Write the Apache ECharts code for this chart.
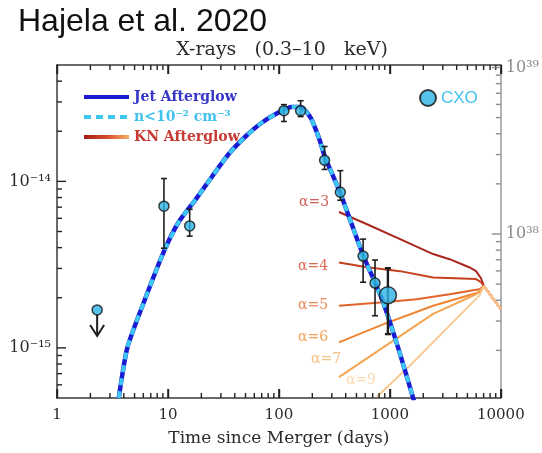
<!DOCTYPE html>
<html><head><meta charset="utf-8">
<script src="https://cdn.jsdelivr.net/npm/echarts@6/dist/echarts.min.js"></script>
<style>html,body{margin:0;padding:0;background:#fff}#chart{width:542px;height:453px}</style>
</head><body><div id="chart"></div>
<script>
// ---------------- data ----------------
const xTicks = [1, 10, 100, 1000, 10000];
const xTickLabels = ['1', '10', '100', '1000', '10000'];
const fluxTicks = [1e-15, 1e-14];
const fluxTickLabels = ['10⁻¹⁵', '10⁻¹⁴'];
const lumTicks = [1e38, 1e39];
const lumTickLabels = ['10³⁸', '10³⁹'];

// Jet afterglow model (days, erg/s/cm^2)
const jetT = [3.6, 4.3, 6.1, 9.2, 12.5, 17.8, 25, 35, 50, 70, 100, 130, 157, 194, 231, 260, 300, 360, 450, 574, 850, 1200, 1650];
const jetF = [5.0e-16, 1.0e-15, 1.9e-15, 3.8e-15, 5.7e-15, 7.8e-15, 1.07e-14, 1.45e-14, 1.86e-14, 2.25e-14, 2.6e-14, 2.8e-14, 2.8e-14, 2.4e-14, 1.8e-14, 1.4e-14, 1.12e-14, 8.4e-15, 5.6e-15, 3.6e-15, 1.96e-15, 9.8e-16, 4.8e-16];

// CXO detections
const cxoT  = [9.2, 15.7, 111, 157, 258, 358, 574, 735, 960];
const cxoF  = [7.1e-15, 5.4e-15, 2.66e-14, 2.66e-14, 1.34e-14, 8.6e-15, 3.56e-15, 2.45e-15, 2.07e-15];
const cxoLo = [3.97e-15, 4.69e-15, 2.29e-14, 2.45e-14, 1.18e-14, 7.7e-15, 2.48e-15, 1.56e-15, 1.21e-15];
const cxoHi = [1.04e-14, 6.8e-15, 2.89e-14, 3.05e-14, 1.62e-14, 1.16e-14, 4.5e-15, 3.37e-15, 3.01e-15];
// CXO upper limit
const ulT = [2.3];
const ulF = [1.69e-15];

// KN afterglow models
const knNames = ['α=3', 'α=4', 'α=5', 'α=6', 'α=7', 'α=9'];
const kn3T = [348, 623, 1236, 2455, 3452, 5180, 5980, 6630, 7050, 10000];
const kn3F = [6.55e-15, 5.53e-15, 4.5e-15, 3.66e-15, 3.41e-15, 3.05e-15, 2.89e-15, 2.62e-15, 2.35e-15, 1.71e-15];
const kn4T = [348, 623, 1236, 2455, 5980, 6630, 7050, 10000];
const kn4F = [3.26e-15, 3.05e-15, 2.89e-15, 2.65e-15, 2.59e-15, 2.48e-15, 2.35e-15, 1.71e-15];
const kn5T = [348, 879, 1742, 3452, 6400, 7050, 10000];
const kn5F = [1.79e-15, 1.88e-15, 1.96e-15, 2.10e-15, 2.25e-15, 2.35e-15, 1.71e-15];
const kn6T = [348, 879, 2455, 6400, 7050, 10000];
const kn6F = [1.08e-15, 1.39e-15, 1.79e-15, 2.16e-15, 2.35e-15, 1.71e-15];
const kn7T = [348, 879, 2455, 5980, 7050, 10000];
const kn7F = [6.68e-16, 1.01e-15, 1.60e-15, 2.10e-15, 2.35e-15, 1.71e-15];
const kn9T = [765, 1518, 3452, 6400, 7050, 10000];
const kn9F = [5.09e-16, 7.83e-16, 1.36e-15, 2.06e-15, 2.35e-15, 1.71e-15];

// axis ranges
const timeMin = 1, timeMax = 10000;
const fluxMin = 5e-16, fluxMax = 5e-14;
const lumPerFlux = 2.07e52;

// ---------------- helpers ----------------
const FU = 1e-16;   // plotting unit for flux
const LU = 1e37;    // plotting unit for luminosity
const pair = (T, F) => T.map((t, i) => [t, F[i] / FU]);
const isClose = (a, b) => Math.abs(Math.log10(a) - Math.log10(b)) < 1e-6;
function lookup(v, ticks, labels, unit) {
  for (let i = 0; i < ticks.length; i++) if (isClose(v * unit, ticks[i])) return labels[i];
  return '';
}
const SERIF = 'DejaVu Serif';
const AX = '#3a3a3a';
const RAX = '#9a9a9a';

const knT = [kn3T, kn4T, kn5T, kn6T, kn7T, kn9T];
const knF = [kn3F, kn4F, kn5F, kn6F, kn7F, kn9F];
const knColors = ['#a8261c', '#c5401f', '#e2642a', '#ee8430', '#f4a552', '#f8c994'];
const knLabelColors = ['#c0392f', '#cf4a2c', '#e66a2a', '#ef8a2e', '#f3b066', '#f7cf9e'];
const knLabelOffsets = [[-25, -10], [-26, 4], [-26, 0], [-26, -5], [-13, -18], [-16, -16]];

// minor tick values
const xMinor = [], fluxMinor = [], lumMinor = [];
[1, 10, 100, 1000].forEach(d => { for (let k = 2; k <= 9; k++) xMinor.push(k * d); });
[1e-16, 1e-15, 1e-14].forEach(d => { for (let k = 2; k <= 9; k++) { const v = k * d; if (v > fluxMin && v < fluxMax) fluxMinor.push(v); } });
[1e37, 1e38].forEach(d => { for (let k = 2; k <= 9; k++) { const v = k * d; if (v > fluxMin * lumPerFlux && v < fluxMax * lumPerFlux) lumMinor.push(v); } });

const tickRowsX = xTicks.map(v => [v, 1]).concat(xMinor.map(v => [v, 0]));
const tickRowsL = fluxTicks.map(v => [v / FU, 1]).concat(fluxMinor.map(v => [v / FU, 0]));
const tickRowsR = lumTicks.map(v => [v / LU, 1]).concat(lumMinor.map(v => [v / LU, 0]));

const series = [];
knT.forEach((T, i) => {
  series.push({
    type: 'line', name: knNames[i], data: pair(T, knF[i]), symbol: 'none', z: 2,
    lineStyle: { color: knColors[i], width: 2 }, itemStyle: { color: knColors[i] }, silent: true
  });
});
series.push({
  type: 'scatter', name: 'knLabels', symbolSize: 0, z: 2, silent: true,
  data: knT.map((T, i) => ({
    value: [T[0], knF[i][0] / FU],
    label: { show: true, position: 'inside', formatter: knNames[i], offset: knLabelOffsets[i],
             color: knLabelColors[i], fontSize: 14, fontFamily: SERIF }
  }))
});
const knGrad = new echarts.graphic.LinearGradient(0, 0, 1, 0, [
  { offset: 0, color: '#9c1a16' }, { offset: 0.55, color: '#d9532a' }, { offset: 1, color: '#f9bb6c' }]);
series.push({ type: 'line', name: 'KN Afterglow', data: [], symbol: 'none',
  lineStyle: { color: knGrad, width: 4 }, itemStyle: { color: knGrad } });
series.push({ type: 'line', name: 'Jet Afterglow', data: pair(jetT, jetF), symbol: 'none', smooth: 0.2, z: 3,
  lineStyle: { color: '#1b1bd4', width: 4.5 }, itemStyle: { color: '#1b1bd4' }, silent: true });
series.push({ type: 'line', name: 'n<10⁻² cm⁻³', data: pair(jetT, jetF), symbol: 'none', smooth: 0.2, z: 4,
  lineStyle: { color: '#3cc8f2', width: 4, type: [7, 6] }, itemStyle: { color: '#3cc8f2' }, silent: true });
series.push({
  type: 'custom', name: 'err', z: 5, silent: true,
  data: cxoT.map((t, i) => [t, cxoLo[i] / FU, cxoHi[i] / FU]),
  renderItem(params, api) {
    const x = api.value(0);
    const lo = api.coord([x, api.value(1)]), hi = api.coord([x, api.value(2)]);
    const big = params.dataIndex === cxoT.length - 1;
    const st = { stroke: '#1e1e1e', lineWidth: big ? 2.4 : 1.6 };
    const w = 3;
    return { type: 'group', children: [
      { type: 'line', shape: { x1: lo[0], y1: lo[1], x2: hi[0], y2: hi[1] }, style: st },
      { type: 'line', shape: { x1: hi[0] - w, y1: hi[1], x2: hi[0] + w, y2: hi[1] }, style: st },
      { type: 'line', shape: { x1: lo[0] - w, y1: lo[1], x2: lo[0] + w, y2: lo[1] }, style: st }] };
  }
});
// x ticks (bottom and top) -- drawn as short vertical segments
series.push({
  type: 'custom', name: 'xticks', z: 7, silent: true,
  data: tickRowsX.map(r => [r[0], fluxMin / FU * 1.0001, fluxMax / FU * 0.9999, r[1]]),
  renderItem(params, api) {
    const x = api.value(0);
    const b = api.coord([x, api.value(1)]), t = api.coord([x, api.value(2)]);
    const L = api.value(3) ? 9 : 5;
    const st = { stroke: '#222222', lineWidth: 1.4 };
    return { type: 'group', children: [
      { type: 'line', shape: { x1: b[0], y1: b[1], x2: b[0], y2: b[1] - L }, style: st },
      { type: 'line', shape: { x1: t[0], y1: t[1], x2: t[0], y2: t[1] + L }, style: st }] };
  }
});
series.push({
  type: 'custom', name: 'lticks', z: 7, silent: true,
  data: tickRowsL.map(r => [timeMin * 1.0001, r[0], r[1]]),
  renderItem(params, api) {
    const p = api.coord([api.value(0), api.value(1)]);
    const L = api.value(2) ? 9 : 5;
    return { type: 'line', shape: { x1: p[0], y1: p[1], x2: p[0] + L, y2: p[1] }, style: { stroke: '#222222', lineWidth: 1.4 } };
  }
});
series.push({
  type: 'custom', name: 'rticks', z: 7, silent: true, yAxisIndex: 1,
  data: tickRowsR.map(r => [timeMax * 0.9999, r[0], r[1]]),
  renderItem(params, api) {
    const p = api.coord([api.value(0), api.value(1)]);
    const L = api.value(2) ? 9 : 5;
    return { type: 'line', shape: { x1: p[0], y1: p[1], x2: p[0] - L, y2: p[1] }, style: { stroke: '#8c8c8c', lineWidth: 1.4 } };
  }
});
series.push({
  type: 'custom', name: 'ulArrow', z: 5, silent: true,
  data: ulT.map((t, i) => [t, ulF[i] / FU]),
  renderItem(params, api) {
    const p = api.coord([api.value(0), api.value(1)]);
    const st = { stroke: '#1e1e1e', lineWidth: 2, fill: null };
    return { type: 'group', children: [
      { type: 'line', shape: { x1: p[0], y1: p[1] + 4, x2: p[0], y2: p[1] + 26 }, style: st },
      { type: 'polyline', shape: { points: [[p[0] - 7, p[1] + 15], [p[0], p[1] + 26], [p[0] + 7, p[1] + 15]] }, style: st }] };
  }
});
const ptStyle = { color: '#2db4e6', borderColor: '#141414', borderWidth: 1.5 };
series.push({ type: 'scatter', name: 'CXO', z: 6, silent: true, data: pair(cxoT, cxoF),
  symbolSize: (v, p) => p.dataIndex === cxoT.length - 1 ? 17 : 10,
  itemStyle: ptStyle });
series.push({ type: 'scatter', name: 'CXO UL', z: 6, silent: true, data: pair(ulT, ulF), symbolSize: 10, itemStyle: ptStyle });

const hideSym = { opacity: 0, color: 'rgba(0,0,0,0)', borderWidth: 0 };
const option = {
  animation: false,
  backgroundColor: '#fff',
  title: [
    { text: 'Hajela et al. 2020', left: 13, top: 1,
      textStyle: { fontFamily: 'Liberation Sans', fontSize: 32, fontWeight: 'normal', color: '#111' } },
    { text: 'X-rays   (0.3–10   keV)', left: 277, top: 36, textAlign: 'center',
      textStyle: { fontFamily: SERIF, fontSize: 19, fontWeight: 'normal', color: '#2a2a2a' } }
  ],
  legend: [
    { orient: 'vertical', left: 77, top: 85, itemWidth: 45, itemHeight: 14, itemGap: 6, selectedMode: false,
      textStyle: { fontFamily: SERIF, fontSize: 14, fontWeight: 'bold', lineHeight: 14 },
      data: [
        { name: 'Jet Afterglow', itemStyle: hideSym, lineStyle: { width: 4, color: '#1b1bd4' }, textStyle: { color: '#3535c6' } },
        { name: 'n<10⁻² cm⁻³', itemStyle: hideSym, lineStyle: { width: 4, color: '#3cc8f2', type: [7, 5] }, textStyle: { color: '#43c2ee' } },
        { name: 'KN Afterglow', itemStyle: hideSym, lineStyle: { width: 4, color: knGrad }, textStyle: { color: '#c83a34' } }
      ] },
    { orient: 'vertical', left: 414, top: 84, itemWidth: 16, itemHeight: 16, selectedMode: false, icon: 'circle',
      textStyle: { fontFamily: 'Liberation Sans', fontSize: 17, color: '#43c2ee' },
      data: [{ name: 'CXO', itemStyle: { color: '#2db4e6', borderColor: '#141414', borderWidth: 2 } }] }
  ],
  grid: { left: 57, right: 37, top: 65, bottom: 55, containLabel: false },
  xAxis: [
    { type: 'log', logBase: 10, min: timeMin, max: timeMax, position: 'bottom',
      name: 'Time since Merger (days)', nameLocation: 'middle', nameGap: 32,
      nameTextStyle: { fontFamily: SERIF, fontSize: 17, color: '#2a2a2a' },
      axisLine: { show: true, lineStyle: { color: AX, width: 1.5 } },
      axisTick: { show: true, inside: true, length: 9, lineStyle: { color: '#222222', width: 1.4 } },
      axisLabel: { fontFamily: SERIF, fontSize: 15, color: '#2a2a2a', margin: 10,
        formatter: v => lookup(v, xTicks, xTickLabels, 1) },
      splitLine: { show: false } },
    { type: 'log', logBase: 10, min: timeMin, max: timeMax, position: 'top',
      axisLine: { show: true, lineStyle: { color: AX, width: 1.5 } },
      axisTick: { show: true, inside: true, length: 9, lineStyle: { color: '#222222', width: 1.4 } },
      axisLabel: { show: false }, splitLine: { show: false } }
  ],
  yAxis: [
    { type: 'log', logBase: 10, min: fluxMin / FU, max: fluxMax / FU, position: 'left',
      axisLine: { show: true, lineStyle: { color: AX, width: 1.5 } },
      axisTick: { show: false },
      axisLabel: { fontFamily: SERIF, fontSize: 16, color: '#2a2a2a', margin: 6,
        formatter: v => lookup(v, fluxTicks, fluxTickLabels, FU) },
      splitLine: { show: false } },
    { type: 'log', logBase: 10, min: fluxMin * lumPerFlux / LU, max: fluxMax * lumPerFlux / LU, position: 'right',
      axisLine: { show: true, lineStyle: { color: RAX, width: 1.5 } },
      axisTick: { show: false },
      axisLabel: { fontFamily: SERIF, fontSize: 16, color: '#8a8a8a', margin: 5,
        formatter: v => lookup(v, lumTicks, lumTickLabels, LU) },
      splitLine: { show: false } }
  ],
  series: series
};
const chart = echarts.init(document.getElementById('chart'), null, { renderer: 'canvas' });
chart.setOption(option);
</script></body></html>
